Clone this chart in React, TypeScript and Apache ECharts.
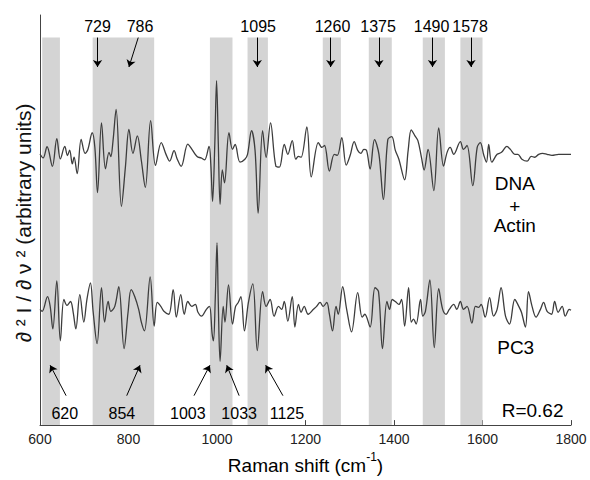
import React, { useEffect, useRef } from 'react';
import * as echarts from 'echarts';

// Shaded Raman bands (cm^-1)
const bandStart = [605, 719, 984, 1069, 1239, 1343, 1465, 1550];
const bandEnd = [645, 858, 1035, 1115, 1280, 1395, 1515, 1600];

// DNA + Actin second-derivative trace (key points: Raman shift, relative value)
const dnaX = [600, 607, 616, 628, 638, 646, 656, 662, 667, 673, 677, 684, 693, 702, 708, 718, 724, 730, 739, 748, 756, 760, 765, 772, 784, 793, 801, 810, 820, 829, 838, 850, 861, 874, 885, 893, 903, 910, 919, 934, 943, 955, 964, 972, 982, 986, 990, 995, 999, 1003, 1007, 1012, 1017, 1027, 1035, 1041, 1052, 1063, 1069, 1078, 1086, 1093, 1103, 1111, 1121, 1133, 1141, 1152, 1160, 1170, 1178, 1184, 1190, 1203, 1213, 1229, 1237, 1243, 1254, 1265, 1272, 1282, 1292, 1301, 1310, 1318, 1325, 1332, 1338, 1346, 1356, 1366, 1376, 1386, 1395, 1403, 1411, 1424, 1432, 1439, 1447, 1454, 1462, 1468, 1477, 1490, 1501, 1512, 1520, 1527, 1535, 1550, 1557, 1565, 1578, 1588, 1595, 1603, 1609, 1614, 1621, 1633, 1643, 1655, 1663, 1673, 1680, 1689, 1701, 1710, 1718, 1727, 1736, 1746, 1757, 1772, 1787, 1800];
const dnaY = [0.3, -3.7, 7.7, -12.3, 16, -4.7, 8, -1.3, 4.3, -9.7, -3, -19.7, 15.3, 1, 4.7, 22, 7, -39, 32, -14.7, 2, -2.3, 13.7, 45.7, -53, -13, 25.3, 1, 18.7, -6.3, -33.7, 34.3, -11.3, 12, -0.3, -7, 3.7, -4.7, -12.3, 10.3, 5.3, -2.3, -3.7, -5.7, 8, -10, -48, 10, 75, 10, -51, -16, -29, 22, 5, 10, -8, -5, 0, 24, 4, -60, 24, -3, 32, -12, -13, 10, 0, 14, -5, -2, -3, 28, -23, 12, 7, 9, -17, 0, -1, 17, -11, -1, 13, 4, 1, 5, 4, -15, 15, 0, -46, 15, 18, 4, -5, -26, 4, 25, 19, 14, -3, -16, 5, -37, 27, -12, 2, 7, 0, 13, 5, 9, -32, 7, 12, -1, -8, 10, -8, 0, 2, 8, 5, 0, 0, -5, -7, -2, -3, 0, 1, 0, -1, 0, 0, 0];

// PC3 second-derivative trace
const pc3X = [600, 605, 617, 623, 629, 638, 646, 654, 661, 669, 675, 681, 690, 699, 706, 714, 720, 729, 739, 746, 754, 760, 769, 778, 790, 799, 806, 814, 823, 829, 836, 849, 858, 865, 873, 880, 891, 901, 908, 918, 926, 934, 943, 951, 957, 965, 976, 983, 989, 992, 996, 1000, 1003, 1007, 1014, 1018, 1026, 1035, 1042, 1048, 1054, 1062, 1071, 1081, 1091, 1103, 1111, 1120, 1129, 1139, 1146, 1152, 1160, 1170, 1176, 1184, 1190, 1197, 1206, 1218, 1225, 1233, 1240, 1248, 1254, 1261, 1269, 1274, 1284, 1293, 1304, 1318, 1328, 1334, 1346, 1357, 1365, 1374, 1384, 1390, 1396, 1403, 1411, 1417, 1424, 1433, 1439, 1444, 1450, 1460, 1465, 1471, 1481, 1491, 1501, 1510, 1518, 1525, 1535, 1542, 1550, 1557, 1565, 1576, 1584, 1591, 1597, 1606, 1616, 1625, 1633, 1642, 1652, 1661, 1673, 1682, 1688, 1697, 1704, 1712, 1721, 1731, 1738, 1746, 1756, 1763, 1771, 1780, 1787, 1796, 1800];
const pc3Y = [0, -2, 13, 3, -20, 29, -32, 10, 4, 8, -3, -20, 15, -13, 10, 27, -2, -35, 22, -13, 8, -2, 3, 23, -40, -3, 20, 13, 0, -13, -22, 33, -17, 7, 3, -2, -5, 20, -8, 15, -5, 8, 3, 5, -3, -7, 0, 3, -25, -32, 10, 68, 5, -53, 3, -13, 25, -15, 3, 7, 13, -22, 7, 26, -42, 18, 3, 10, -7, 3, 0, 8, -12, 13, -18, 5, -3, 3, -5, 0, 3, 7, 3, 7, -5, -22, 3, -5, 23, 0, -23, 17, -8, -5, -18, 22, 18, -40, 8, 0, 10, 8, 5, 10, -17, 22, -13, -10, -15, 10, -7, -2, 30, -39, 21, 0, -5, 0, 5, 0, 8, 0, 3, -14, 3, 2, 5, -8, 12, -7, 0, 22, -7, -15, 10, 3, -3, -18, 18, 3, -8, 0, 7, -2, -5, 8, -3, 3, -7, 0, -1];

// Peak annotations
const topPeakLabels = ['729', '786', '1095', '1260', '1375', '1490', '1578'];
const topPeakLabelX = [730, 826, 1093, 1261, 1364, 1485, 1572];
const topArrowFromX = [730, 822, 1091, 1257, 1366, 1487, 1574];
const topArrowToX = [730, 801, 1091, 1257, 1366, 1487, 1574];

const bottomPeakLabels = ['620', '854', '1003', '1033', '1125'];
const bottomPeakLabelX = [656, 785, 934, 1050, 1158];
const bottomArrowFromX = [659, 796, 948, 1050, 1149];
const bottomArrowToX = [623, 826, 984, 1022, 1110];

// Sample names / statistics
const sampleLabels = ['DNA', '+', 'Actin', 'PC3'];
const correlationLabel = 'R=0.62';

const xTicks = [600, 800, 1000, 1200, 1400, 1600, 1800];

const FONT = "'Liberation Sans', Arial, Helvetica, sans-serif";

export default function App() {
  const ref = useRef<HTMLDivElement>(null);

  useEffect(() => {
    const chart = echarts.init(ref.current!, null, { renderer: 'svg' });

    const Y_MAX = 418;
    const DNA_OFFSET = 276;
    const PC3_OFFSET = 118;
    const BAND_TOP = 395;
    const samplePos = [
      [1673, 246],
      [1673, 223],
      [1673, 203],
      [1675, 79],
    ];

    const option: any = {
      animation: false,
      textStyle: { fontFamily: FONT },
      grid: { left: 40, right: 19, top: 15, bottom: 47 },
      xAxis: {
        type: 'value',
        min: xTicks[0],
        max: xTicks[xTicks.length - 1],
        interval: 200,
        name: '{a|Raman shift (cm}{b|-1}{a|)}',
        nameLocation: 'middle',
        nameGap: 23,
        nameTextStyle: {
          rich: {
            a: { fontSize: 19, color: '#000', fontFamily: FONT, lineHeight: 24, verticalAlign: 'bottom' },
            b: { fontSize: 12, color: '#000', fontFamily: FONT, lineHeight: 24, verticalAlign: 'top' },
          },
        },
        axisLine: { show: true, lineStyle: { color: '#444', width: 1 } },
        axisTick: { show: true, inside: true, length: 5, lineStyle: { color: '#444' } },
        axisLabel: {
          fontSize: 14,
          color: '#222',
          margin: 7,
          fontFamily: FONT,
          formatter: (v: number) => String(v),
        },
        splitLine: { show: false },
      },
      yAxis: {
        type: 'value',
        min: 0,
        max: Y_MAX,
        name: '∂ ² I / ∂ ν ² (arbitrary units)',
        nameLocation: 'middle',
        nameRotate: 90,
        nameGap: 6,
        nameTextStyle: { fontSize: 21, color: '#111', fontFamily: FONT, padding: [0, 6, 0, 0] },
        axisLine: { show: true, lineStyle: { color: '#444', width: 1 } },
        axisTick: { show: false },
        axisLabel: { show: false },
        splitLine: { show: false },
      },
      series: [
        {
          type: 'line',
          data: [],
          z: 1,
          silent: true,
          markArea: {
            silent: true,
            itemStyle: { color: '#d4d4d4', opacity: 1 },
            label: { show: false },
            data: bandStart.map((s, i) => [
              { xAxis: s, yAxis: 0 },
              { xAxis: bandEnd[i], yAxis: BAND_TOP },
            ]),
          },
        },
        {
          type: 'line',
          name: 'DNA + Actin',
          z: 3,
          smooth: 0.35,
          symbol: 'none',
          silent: true,
          lineStyle: { color: '#3d3d3d', width: 1.3 },
          data: dnaX.map((x, i) => [x, dnaY[i] + DNA_OFFSET]),
        },
        {
          type: 'line',
          name: 'PC3',
          z: 3,
          smooth: 0.35,
          symbol: 'none',
          silent: true,
          lineStyle: { color: '#3d3d3d', width: 1.3 },
          data: pc3X.map((x, i) => [x, pc3Y[i] + PC3_OFFSET]),
        },
        {
          type: 'scatter',
          z: 4,
          silent: true,
          symbolSize: 0,
          itemStyle: { opacity: 1 },
          label: {
            show: true,
            position: 'inside',
            fontSize: 16,
            color: '#000',
            fontFamily: FONT,
            formatter: (p: any) => p.value[2],
          },
          data: [
            ...topPeakLabels.map((t, i) => [topPeakLabelX[i], 406, t]),
            ...bottomPeakLabels.map((t, i) => [bottomPeakLabelX[i], 12, t]),
          ],
          markLine: {
            silent: true,
            symbol: ['none', 'arrow'],
            symbolSize: 7,
            label: { show: false },
            lineStyle: { color: '#000', width: 1, type: 'solid', opacity: 1 },
            emphasis: { disabled: true },
            data: [
              ...topArrowFromX.map((x, i) => [
                { coord: [x, BAND_TOP] },
                { coord: [topArrowToX[i], 365] },
              ]),
              ...bottomArrowFromX.map((x, i) => [
                { coord: [x, 30] },
                { coord: [bottomArrowToX[i], 61] },
              ]),
            ],
          },
        },
        {
          type: 'scatter',
          z: 4,
          silent: true,
          symbolSize: 0,
          itemStyle: { opacity: 1 },
          label: {
            show: true,
            position: 'inside',
            fontSize: 19,
            color: '#000',
            fontFamily: FONT,
            formatter: (p: any) => p.value[2],
          },
          data: [
            ...sampleLabels.map((t, i) => [samplePos[i][0], samplePos[i][1], t]),
            { value: [1783, 15, correlationLabel], label: { align: 'right' } },
          ],
        },
      ],
    };

    chart.setOption(option);
    return () => chart.dispose();
  }, []);

  return (
    <div
      ref={ref}
      style={{ position: 'absolute', left: 0, top: 0, width: 590, height: 480 }}
    />
  );
}
